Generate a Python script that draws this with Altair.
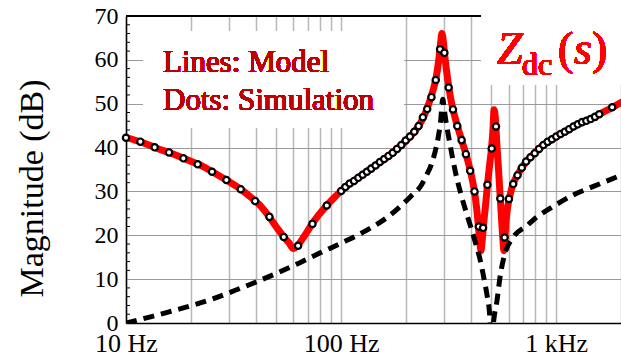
import altair as alt
import pandas as pd

# Model impedance magnitude (red line)
model_hz = [10, 12, 14, 16, 18, 20, 23, 26, 30, 34, 38, 42, 46, 50, 54, 57, 60, 63, 67, 72,
            78, 85, 92, 100, 110, 120, 135, 150, 170, 190, 210, 230, 245, 258, 268, 277, 284, 290, 294, 298,
            303, 310, 318, 328, 340, 355, 372, 390, 405, 418, 428, 436, 442, 447, 452, 460, 470, 480, 490, 500,
            508, 514, 518, 523, 530, 540, 550, 558, 565, 571, 577, 585, 595, 610, 630, 660, 700, 750, 800, 870,
            950, 1050, 1150, 1300, 1450, 1600, 1800, 2000]
model_db = [42.3, 41.1, 39.8, 38.8, 37.8, 36.9, 35.6, 34.1, 32.3, 30.6, 28.7, 26.8, 24.4, 21.9, 19.7, 18.4, 17.0, 17.8, 19.6, 22.0,
            24.4, 26.6, 28.4, 30.1, 31.8, 33.1, 34.9, 36.5, 38.5, 40.5, 42.6, 45.0, 47.6, 50.6, 53.2, 56.2, 59.8, 63.8, 66.0, 64.6,
            61.0, 57.0, 53.2, 49.6, 46.5, 43.3, 40.1, 36.6, 33.2, 29.6, 25.5, 21.5, 18.0, 16.5, 18.5, 22.8, 27.2, 32.0, 36.0, 39.8,
            44.0, 48.6, 48.0, 45.5, 40.5, 34.5, 28.0, 23.0, 19.0, 16.5, 19.5, 23.5, 26.5, 29.2, 31.7, 33.7, 35.8, 37.6, 38.9, 40.6,
            41.8, 43.1, 44.2, 45.6, 46.6, 47.7, 49.0, 50.3]

# Simulated points (dots)
sim_hz = [10, 11.66, 13.59, 15.85, 18.48, 21.54, 25.12, 29.29, 34.15, 39.81, 46.42, 54.12, 63.10, 73.56, 85.77,
          100, 104.7, 109.6, 114.8, 120.2, 125.9, 131.8, 138.0, 144.5, 151.4,
          158.5, 166.0, 173.8, 182.0, 190.5, 199.5, 208.9, 218.8, 229.1, 239.9,
          251.2, 263.0, 275.4, 288.4, 302.0, 316.2, 331.1, 346.7, 363.1, 380.2,
          398.1, 416.9, 436.5, 457.1, 478.6, 501.2, 524.8, 549.5, 575.4, 602.6,
          631.0, 660.7, 691.8, 724.4, 758.6, 794.3, 831.8, 871.0, 912.0, 955.0,
          1000, 1047, 1096, 1148, 1202, 1259, 1318, 1380, 1445, 1514, 1585, 1820]
sim_db = [42.25, 41.35, 40.05, 38.9, 37.55, 36.2, 34.5, 32.6, 30.5, 27.8, 24.2, 19.6, 17.6, 22.6, 26.8,
          30.1, 31.0, 31.8, 32.4, 33.1, 33.8, 34.5, 35.2, 35.9, 36.7,
          37.4, 38.1, 38.8, 39.7, 40.6, 41.6, 42.5, 43.6, 44.9, 46.9,
          48.8, 51.5, 55.4, 62.4, 61.6, 53.7, 48.7, 44.9, 41.7, 38.5,
          34.7, 30.0, 22.0, 21.7, 31.5, 39.8, 44.8, 28.4, 19.5, 28.3,
          31.7, 33.7, 35.4, 36.8, 37.8, 38.7, 39.7, 40.6, 41.3, 41.9,
          42.5, 43.1, 43.6, 44.2, 44.8, 45.3, 45.8, 46.1, 46.5, 47.0, 47.6, 49.2]

# Second impedance curve (black dashed)
dash_hz = [10, 13, 16, 20, 25, 32, 40, 50, 64, 80, 100, 130, 170, 210, 235, 250, 262, 272, 282, 290,
           297, 301, 306, 312, 320, 330, 345, 360, 380, 400, 420, 440, 460, 475, 490, 500, 512, 530, 550, 575,
           630, 731, 813, 900, 1000, 1200, 1500, 2000]
dash_db = [0, 1.4, 2.6, 3.9, 5.4, 7.4, 9.3, 11.3, 13.7, 16.0, 18.2, 21.0, 24.7, 28.8, 31.3, 33.8, 36.0, 38.6, 42.0, 46.0,
           51.0, 49.0, 46.5, 44.0, 41.0, 37.5, 33.0, 29.5, 25.5, 22.0, 18.5, 15.0, 10.5, 6.8, 2.0, -6, 0.5, 5.0, 11.0, 15.5,
           19.5, 22.2, 24.2, 25.6, 27.0, 29.2, 31.2, 33.7]

# Axis decoration
x_grid = [10, 20, 30, 40, 50, 60, 70, 80, 90, 100, 200, 300, 400, 500, 600, 700, 800, 900, 1000, 2000]
y_major = [0, 10, 20, 30, 40, 50, 60, 70]
y_minor = [v for v in range(2, 70, 2) if v % 10 != 0]

SERIF = "Liberation Serif"

xs = alt.Scale(type="log", domain=[10, 2000], nice=False)
ys = alt.Scale(domain=[0, 70], nice=False)

x_axis = alt.Axis(
    values=x_grid,
    labelExpr="datum.value == 10 ? '10 Hz' : datum.value == 100 ? '100 Hz' : datum.value == 1000 ? '1 kHz' : ''",
    title=None, grid=True, gridColor="#b8b8b8", gridWidth=1.5, ticks=False,
    labelFont=SERIF, labelFontSize=26, labelFontWeight="normal", labelColor="black", labelPadding=7,
    labelFlush=False, labelOverlap=False, labelAlign="center", labelLimit=0,
    domainColor="black", domainWidth=1.5,
)
y_axis = alt.Axis(
    values=y_major, title="Magnitude (dB)",
    titleFont=SERIF, titleFontSize=34, titleFontWeight="normal", titleColor="black",
    titleAngle=-90, titleX=-84, titleY=172, titleAlign="center", titleBaseline="alphabetic",
    grid=True, gridColor="#9a9a9a", gridWidth=1, ticks=False,
    labelFont=SERIF, labelFontSize=24, labelFontWeight="normal", labelColor="black",
    labelPadding=8, labelBaseline="middle",
    domainColor="black", domainWidth=1.5,
)

X = alt.X("f:Q", scale=xs, axis=x_axis)
Y = alt.Y("db:Q", scale=ys, axis=y_axis)

model = pd.DataFrame({"f": model_hz, "db": model_db})
sim = pd.DataFrame({"f": sim_hz, "db": sim_db})
dashed = pd.DataFrame({"f": dash_hz, "db": dash_db})
minor = pd.DataFrame({"db": y_minor})

# white boxes behind the annotations hide the grid there
note_box = alt.Chart(model).mark_rect(color="white").encode(
    x=alt.value(17), x2=alt.value(278), y=alt.value(15), y2=alt.value(112))
title_box = alt.Chart(model).mark_rect(color="white").encode(
    x=alt.value(355), x2=alt.value(500), y=alt.value(-16), y2=alt.value(69))
top_border = alt.Chart(model).mark_rule(color="black", strokeWidth=1.5).encode(
    x=alt.value(0), x2=alt.value(355), y=alt.value(0))
minor_ticks = alt.Chart(minor).mark_rule(color="black", strokeWidth=1).encode(
    y=Y, x=alt.value(0), x2=alt.value(4))

model_line = alt.Chart(model).mark_line(
    color="#ff0000", strokeWidth=7, interpolate="monotone", strokeJoin="round", strokeCap="round"
).encode(x=X, y=Y)
dashed_line = alt.Chart(dashed).mark_line(
    color="black", strokeWidth=5, strokeDash=[11, 7], interpolate="monotone", clip=True
).encode(x=X, y=Y)
sim_dots = alt.Chart(sim).mark_point(
    shape="circle", filled=True, fill="white", stroke="black", strokeWidth=2.2, size=40, opacity=1
).encode(x=X, y=Y)

def label(text, x, y, size, color, style="normal"):
    return alt.Chart(model).mark_text(
        text=text, font=SERIF, fontSize=size, fill=color, fontStyle=style, fontWeight="normal",
        align="left", baseline="alphabetic"
    ).encode(x=alt.value(x), y=alt.value(y))

texts = [
    label("Lines: Model", 37, 56, 31, "#c00000"),
    label("Dots: Simulation", 37, 94, 31, "#c00000"),
    label("Z", 371, 48, 46, "#ff0000", "italic"),
    label("dc", 396, 59, 32, "#ff0000"),
    label("(", 432, 48, 46, "#ff0000"),
    label("s", 448, 48, 46, "#ff0000", "italic"),
    label(")", 466, 48, 46, "#ff0000"),
]

chart = alt.layer(
    note_box, title_box, top_border, minor_ticks, model_line, dashed_line, sim_dots, *texts
).properties(
    width=495, height=307,
    autosize=alt.AutoSizeParams(type="none"),
    padding={"left": 126, "top": 16, "right": 0, "bottom": 34},
).configure_view(strokeWidth=0).configure(background="white")

chart.save("out.html", embed_options={"renderer": "svg", "actions": False})
